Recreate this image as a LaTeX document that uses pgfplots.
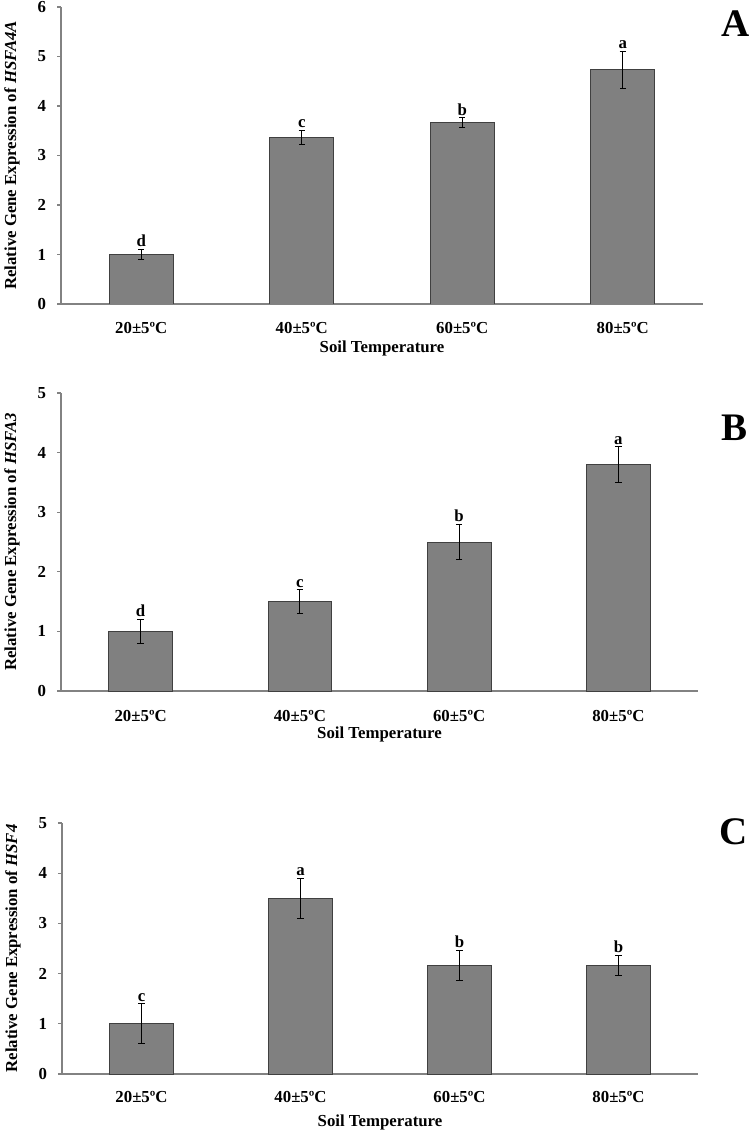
\documentclass[border=0pt]{standalone}
\usepackage{fontspec}
\setmainfont{Liberation Serif}
\usepackage{pgfplots}
\pgfplotsset{compat=1.18}

\definecolor{barfill}{RGB}{128,128,128}
\definecolor{axisgray}{RGB}{130,130,130}

\newcommand{\lblfont}{\fontsize{8.4}{10}\selectfont\bfseries}

\tikzset{
  sig/.style={anchor=south, inner sep=1pt, font=\lblfont},
  panel/.style={anchor=base west, inner sep=0pt, font=\fontsize{19.5}{22}\selectfont\bfseries},
}

\pgfplotsset{
  hsf/.style={
    scale only axis,
    ybar, bar width=0.4,
    xmin=-0.5, xmax=3.5, ymin=0,
    axis lines*=left,
    axis line style={axisgray, line width=0.7pt},
    xtick={0,1,2,3},
    xticklabels={20±5ºC,40±5ºC,60±5ºC,80±5ºC},
    x tick style={draw=none},
    extra x ticks={-0.5,0.5,1.5,2.5,3.5},
    extra x tick labels={},
    extra x tick style={tick align=outside, major tick length=2.5pt,
      tick style={axisgray, line width=0.6pt, draw=axisgray}},
    y tick style={axisgray, line width=0.6pt},
    tick align=outside, major tick length=2pt,
    ytick distance=1,
    /pgf/number format/assume math mode=true,
    tick label style={font=\lblfont},
    xticklabel style={anchor=base, yshift=-13pt},
    yticklabel style={xshift=-2pt},
    every axis y label/.style={at={(axis description cs:0,0.5)}, xshift=-24.5pt,
      rotate=90, anchor=center, font=\lblfont},
    every axis x label/.style={at={(axis description cs:0.5,0)}, yshift=-24.5pt,
      anchor=base, font=\lblfont},
    xlabel={Soil Temperature},
  },
  hsfbar/.style={fill=barfill, draw=black!75, line width=0.4pt,
    error bars/.cd, y dir=both, y explicit,
    error bar style={black, line width=0.5pt},
    error mark options={rotate=90, mark size=1.6pt, line width=0.5pt}},
}

\begin{document}
\begin{tikzpicture}
\useasboundingbox (0,0) rectangle (374.5pt,-566.5pt);

% panel A
\begin{axis}[hsf, at={(30.5pt,-152pt)}, anchor=south west,
  width=321pt, height=148.5pt, ymax=6,
  ylabel={Relative Gene Expression of \textit{HSFA4A}}]
\addplot[hsfbar] coordinates {
  (0,1.00) +- (0,0.11)
  (1,3.37) +- (0,0.14)
  (2,3.66) +- (0,0.10)
  (3,4.73) +- (0,0.38)
};
\node[sig] at (axis cs:0,1.11) {d};
\node[sig] at (axis cs:1,3.51) {c};
\node[sig] at (axis cs:2,3.76) {b};
\node[sig] at (axis cs:3,5.11) {a};
\end{axis}
\node[panel] at (360.5pt,-18.5pt) {A};

% panel B
\begin{axis}[hsf, at={(30.5pt,-345.5pt)}, anchor=south west,
  width=318.5pt, height=149pt, ymax=5,
  xlabel style={yshift=1pt},
  ylabel={Relative Gene Expression of \textit{HSFA3}}]
\addplot[hsfbar] coordinates {
  (0,1.0) +- (0,0.2)
  (1,1.5) +- (0,0.2)
  (2,2.5) +- (0,0.3)
  (3,3.8) +- (0,0.3)
};
\node[sig] at (axis cs:0,1.2) {d};
\node[sig] at (axis cs:1,1.7) {c};
\node[sig] at (axis cs:2,2.8) {b};
\node[sig] at (axis cs:3,4.1) {a};
\end{axis}
\node[panel] at (360.5pt,-220pt) {B};

% panel C
\begin{axis}[hsf, at={(31pt,-537pt)}, anchor=south west,
  width=318pt, height=125.5pt, ymax=5,
  xticklabel style={yshift=1pt},
  xlabel style={yshift=-1.5pt},
  ylabel={Relative Gene Expression of \textit{HSF4}}]
\addplot[hsfbar] coordinates {
  (0,1.00) +- (0,0.4)
  (1,3.50) +- (0,0.4)
  (2,2.16) +- (0,0.3)
  (3,2.16) +- (0,0.2)
};
\node[sig] at (axis cs:0,1.4) {c};
\node[sig] at (axis cs:1,3.9) {a};
\node[sig] at (axis cs:2,2.46) {b};
\node[sig] at (axis cs:3,2.36) {b};
\end{axis}
\node[panel] at (359.5pt,-422pt) {C};
\end{tikzpicture}
\end{document}
